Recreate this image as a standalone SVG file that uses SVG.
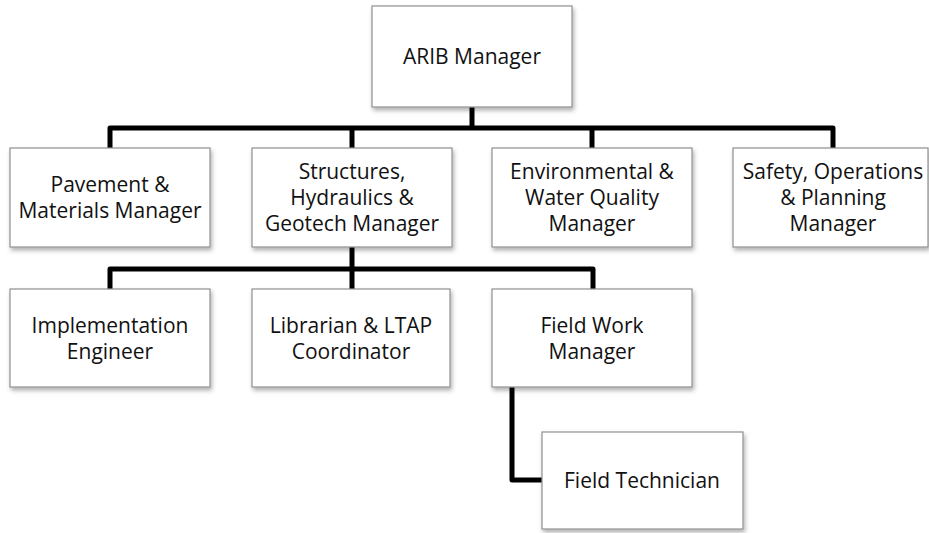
<svg xmlns="http://www.w3.org/2000/svg" width="929" height="533" viewBox="0 0 929 533">
<style>
.box{fill:#fff;stroke:#8f8f8f;stroke-width:1.2;filter:url(#sh)}
.t{font-family:"Open Sans","Noto Sans",sans-serif;font-size:21px;fill:#111;text-anchor:middle}
.c{fill:none;stroke:#000;stroke-width:5;stroke-linejoin:round;stroke-linecap:butt}
</style>
<defs>
<filter id="sh" x="-10%" y="-10%" width="130%" height="140%">
<feDropShadow dx="1.5" dy="3" stdDeviation="2" flood-color="#000" flood-opacity="0.3"/>
</filter>
</defs>
<rect width="929" height="533" fill="#fff"/>
<g id="connectors">
<path class="c" d="M472,107 V128"/>
<path class="c" d="M110,148 V128 H833 V148"/>
<path class="c" d="M352,128 V148"/>
<path class="c" d="M592,128 V148"/>
<path class="c" d="M352,247 V269"/>
<path class="c" d="M110,289 V269 H593 V289"/>
<path class="c" d="M352,269 V289"/>
<path class="c" d="M512,387 V480 H542"/>
</g>
<g id="arib">
<rect class="box" x="372" y="6" width="200" height="101"/>
<text class="t" x="472" y="64">ARIB Manager</text>
</g>
<g id="pavement">
<rect class="box" x="10" y="148" width="200" height="99"/>
<text class="t" x="110" y="192">Pavement &amp;</text>
<text class="t" x="110" y="218">Materials Manager</text>
</g>
<g id="structures">
<rect class="box" x="252" y="148" width="200" height="99"/>
<text class="t" x="352" y="179">Structures,</text>
<text class="t" x="352" y="205">Hydraulics &amp;</text>
<text class="t" x="352" y="231">Geotech Manager</text>
</g>
<g id="environmental">
<rect class="box" x="492" y="148" width="200" height="99"/>
<text class="t" x="592" y="179">Environmental &amp;</text>
<text class="t" x="592" y="205">Water Quality</text>
<text class="t" x="592" y="231">Manager</text>
</g>
<g id="safety">
<rect class="box" x="733" y="148" width="195" height="99"/>
<text class="t" x="833" y="179">Safety, Operations</text>
<text class="t" x="833" y="205">&amp; Planning</text>
<text class="t" x="833" y="231">Manager</text>
</g>
<g id="implementation">
<rect class="box" x="10" y="289" width="200" height="98"/>
<text class="t" x="110" y="333">Implementation</text>
<text class="t" x="110" y="359">Engineer</text>
</g>
<g id="librarian">
<rect class="box" x="252" y="289" width="198" height="98"/>
<text class="t" x="351" y="333">Librarian &amp; LTAP</text>
<text class="t" x="351" y="359">Coordinator</text>
</g>
<g id="fieldwork">
<rect class="box" x="492" y="289" width="200" height="98"/>
<text class="t" x="592" y="333">Field Work</text>
<text class="t" x="592" y="359">Manager</text>
</g>
<g id="fieldtech">
<rect class="box" x="542" y="432" width="201" height="97"/>
<text class="t" x="642" y="488">Field Technician</text>
</g>
</svg>
